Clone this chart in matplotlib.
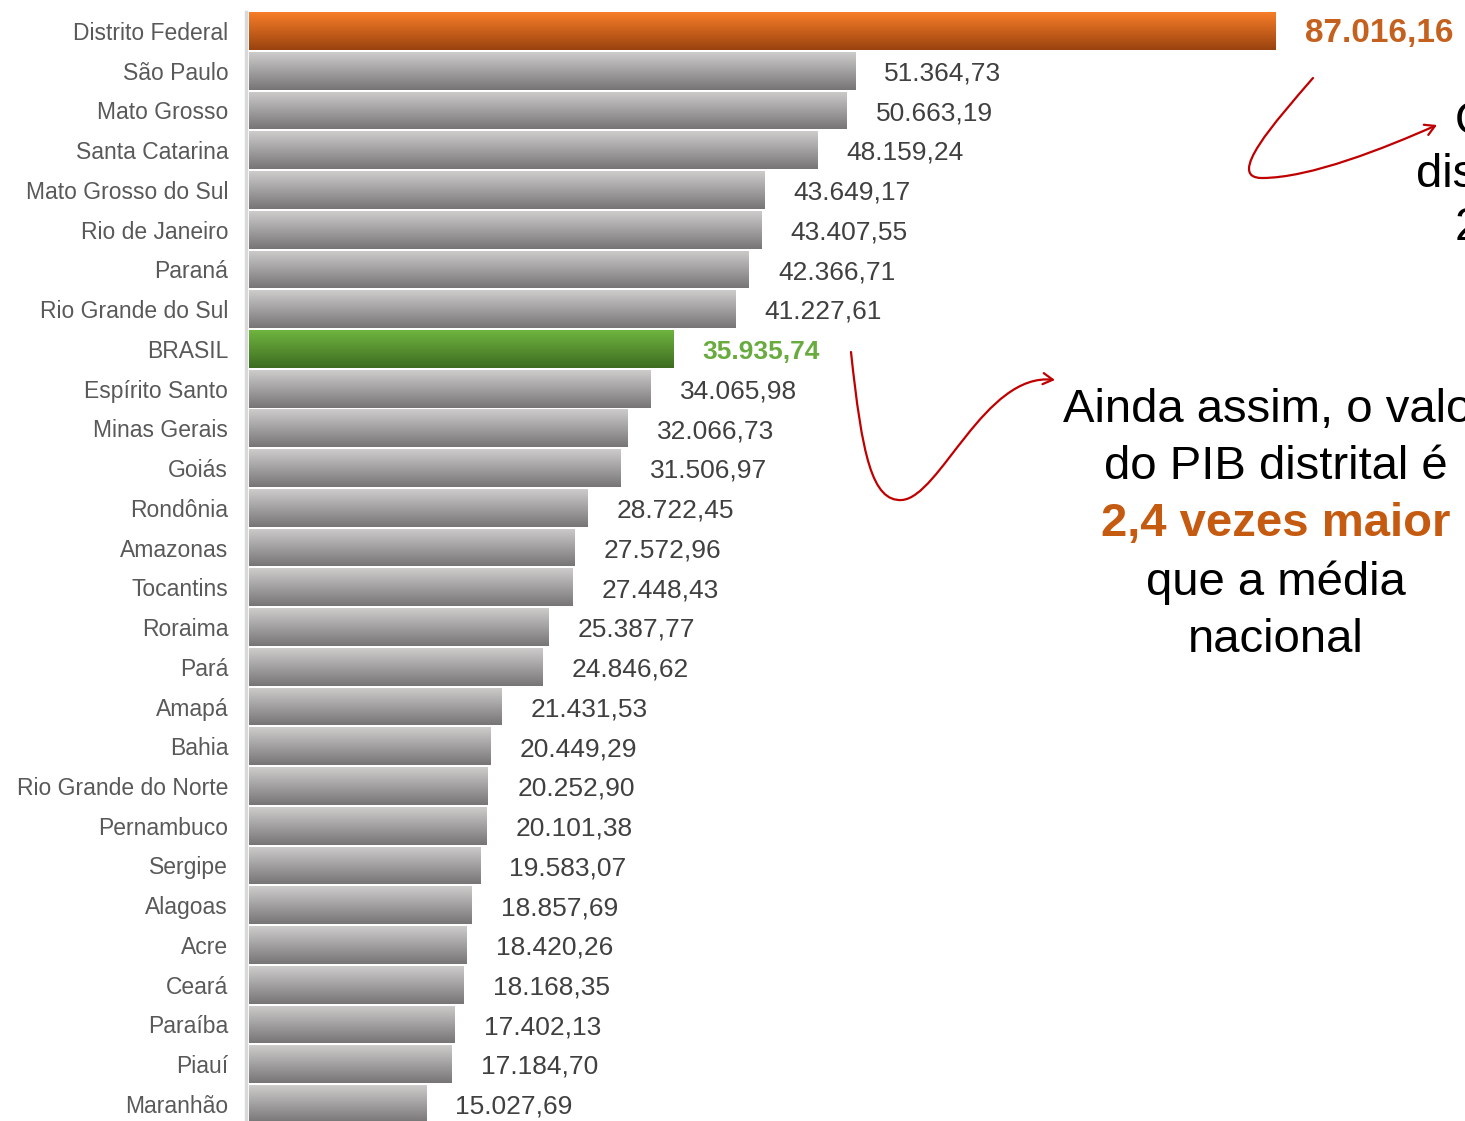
import matplotlib
matplotlib.use("Agg")
import matplotlib.pyplot as plt
import numpy as np
from matplotlib.path import Path
from matplotlib.patches import FancyArrowPatch
from matplotlib.colors import LinearSegmentedColormap

plt.rcParams['font.family'] = ['Liberation Sans', 'DejaVu Sans']

# PIB per capita por unidade da federação
estados = ['Distrito Federal', 'São Paulo', 'Mato Grosso', 'Santa Catarina',
           'Mato Grosso do Sul', 'Rio de Janeiro', 'Paraná', 'Rio Grande do Sul',
           'BRASIL', 'Espírito Santo', 'Minas Gerais', 'Goiás', 'Rondônia',
           'Amazonas', 'Tocantins', 'Roraima', 'Pará', 'Amapá', 'Bahia',
           'Rio Grande do Norte', 'Pernambuco', 'Sergipe', 'Alagoas', 'Acre',
           'Ceará', 'Paraíba', 'Piauí', 'Maranhão']
pib = [87016.16, 51364.73, 50663.19, 48159.24, 43649.17, 43407.55, 42366.71,
       41227.61, 35935.74, 34065.98, 32066.73, 31506.97, 28722.45, 27572.96,
       27448.43, 25387.77, 24846.62, 21431.53, 20449.29, 20252.90, 20101.38,
       19583.07, 18857.69, 18420.26, 18168.35, 17402.13, 17184.70, 15027.69]

W, H = 1465, 1121


def br(v):
    s = f"{v:,.2f}"
    return s.replace(',', 'X').replace('.', ',').replace('X', '.')


def fx(x, y):
    # pixel -> fração da figura
    return (x / W, 1 - y / H)


fig = plt.figure(figsize=(W / 100, H / 100), dpi=100)
ax = fig.add_axes([249 / W, 0, 1 - 249 / W, 1])

y = np.arange(len(estados))
bars = ax.barh(y, pib, height=0.95, color='none')

grad = {'cinza': ('#cdcccb', '#777576'),
        'laranja': ('#f77d28', '#9a430f'),
        'verde': ('#6fb43f', '#3e6c21')}
for i, b in enumerate(bars):
    if estados[i] == 'Distrito Federal':
        c = grad['laranja']
    elif estados[i] == 'BRASIL':
        c = grad['verde']
    else:
        c = grad['cinza']
    cmap = LinearSegmentedColormap.from_list('g', [c[0], c[1]])
    g = np.linspace(0, 1, 64).reshape(-1, 1)
    x0, y0, bw, bh = b.get_x(), b.get_y(), b.get_width(), b.get_height()
    im = ax.imshow(g, cmap=cmap, aspect='auto', origin='upper',
                   extent=(x0, x0 + bw, y0 + bh, y0), zorder=2)
    im.set_clip_path(b)

    if estados[i] == 'Distrito Federal':
        kw = dict(color='#c5611f', fontweight='bold', fontsize=24)
    elif estados[i] == 'BRASIL':
        kw = dict(color='#6aab40', fontweight='bold', fontsize=19)
    else:
        kw = dict(color='#404040', fontsize=19)
    ax.annotate(br(pib[i]), (pib[i], i), xytext=(21, -2), textcoords='offset points',
                va='center', ha='left', **kw)

ax.set_xlim(0, (W - 249) / 0.01180)
ax.set_ylim(27.43, -0.78)

ax.set_yticks(y)
ax.set_yticklabels(estados)
ax.tick_params(axis='y', length=0, pad=13, labelsize=16.5, labelcolor='#595959')
ax.set_xticks([])
for s in ['top', 'right', 'bottom']:
    ax.spines[s].set_visible(False)
ax.spines['left'].set_color('#d9d9d9')
ax.spines['left'].set_linewidth(2.5)
ax.spines['left'].set_bounds(-0.48, 27.43)
ax.spines['left'].set_position(('outward', 2))

# textos de destaque
big = 34
fig.text(*fx(1455, 122), 'O PIB per capita', fontsize=big, ha='left', va='center')
fig.text(*fx(1416, 175), 'distrital é o maior', fontsize=big, ha='left', va='center')
fig.text(*fx(1455, 228), '2º maior do país', fontsize=big, ha='left', va='center')

cx = 1276
fig.text(*fx(cx, 410), 'Ainda assim, o valor', fontsize=big, ha='center', va='center')
fig.text(*fx(cx, 467), 'do PIB distrital é', fontsize=big, ha='center', va='center')
fig.text(*fx(cx, 524), '2,4 vezes maior', fontsize=big, ha='center', va='center',
         color='#c55a11', fontweight='bold')
fig.text(*fx(cx, 583), 'que a média', fontsize=big, ha='center', va='center')
fig.text(*fx(cx, 640), 'nacional', fontsize=big, ha='center', va='center')

# setas curvas
vermelho = '#c00000'
p1 = [fx(1313, 78), fx(1275, 122), fx(1225, 178), fx(1262, 178),
      fx(1310, 178), fx(1385, 148), fx(1437, 125)]
c1 = Path(p1, [Path.MOVETO] + [Path.CURVE4] * 6)
fig.patches.append(FancyArrowPatch(path=c1, arrowstyle='->,head_length=7,head_width=4',
                                   color=vermelho, lw=1.6, transform=fig.transFigure))

p2 = [fx(851, 352), fx(862, 455), fx(872, 502), fx(902, 500),
      fx(940, 497), fx(985, 372), fx(1055, 380)]
c2 = Path(p2, [Path.MOVETO] + [Path.CURVE4] * 6)
fig.patches.append(FancyArrowPatch(path=c2, arrowstyle='->,head_length=7,head_width=4',
                                   color=vermelho, lw=1.6, transform=fig.transFigure))

fig.savefig('out.png', dpi=100)
